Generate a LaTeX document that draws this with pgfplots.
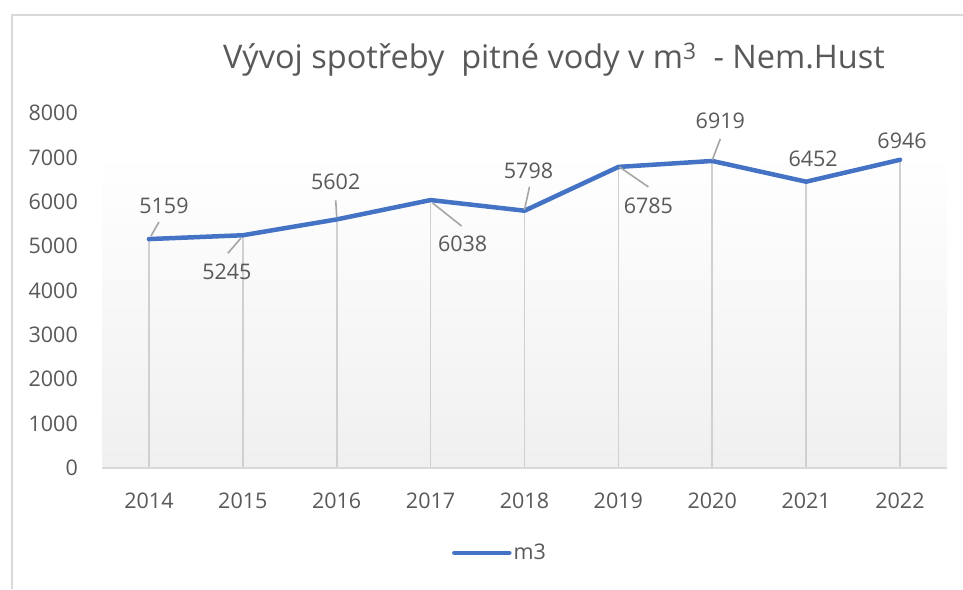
\documentclass[border=0pt]{standalone}
\usepackage{pgfplots}
\pgfplotsset{compat=1.18}
\usepackage{fontspec}
\setmainfont{Open Sans}
\definecolor{lineblue}{HTML}{4472C4}
\definecolor{txtgray}{HTML}{595959}
\definecolor{dropgray}{HTML}{D0D0D0}
\definecolor{leadgray}{HTML}{A6A6A6}
\definecolor{framegray}{HTML}{D9D9D9}
\newcommand{\lbl}[5]{%
  \node[txtgray, inner sep=0pt, font=\fontsize{21.5}{26}\selectfont,
        xshift=#3pt, yshift=#4pt] at (axis cs:#1,#2) {#5};}
\newcommand{\lead}[6]{%
  \draw[leadgray, line width=1.6pt]
    ([xshift=#3pt,yshift=#4pt]axis cs:#1,#2) --
    ([xshift=#5pt,yshift=#6pt]axis cs:#1,#2);}
\begin{document}
\begin{tikzpicture}[x=1pt,y=1pt]
\useasboundingbox (0,0) rectangle (963,589);
\draw[framegray, line width=1.5pt] (12,0) -- (12,574) -- (963,574);
\node[txtgray, font=\fontsize{32.5}{36}\selectfont] at (554,529)
  {Vývoj\ spotřeby\ \ pitné\ vody\ v m\textsuperscript{3}\ \ - Nem.Hust};
\begin{axis}[
  at={(102pt,121pt)}, anchor=south west,
  scale only axis, width=845pt, height=355pt,
  xmin=2013.5, xmax=2022.5, ymin=0, ymax=8000,
  xtick={2014,...,2022},
  xticklabels={2014,2015,2016,2017,2018,2019,2020,2021,2022},
  ytick={0,1000,...,8000},
  yticklabels={0,1000,2000,3000,4000,5000,6000,7000,8000},
  axis line style={draw=none},
  major tick length=0pt,
  tick label style={font=\fontsize{21.5}{26}\selectfont, text=txtgray},
  xticklabel style={anchor=base, yshift=-40pt},
  yticklabel style={anchor=east, inner sep=0pt, xshift=-24pt},
  clip=false,
  legend style={at={(0.471,-0.239)}, anchor=center, draw=none, fill=none,
    font=\fontsize{21.5}{26}\selectfont, text=txtgray, inner sep=0pt},
  legend image code/.code={\draw[#1, line cap=round] (0pt,0pt) -- (55pt,0pt);},
]
  % plot area background
  \path[top color=white, bottom color=black!6]
    (axis cs:2013.5,0) rectangle (axis cs:2022.5,7100);

  % drop lines
  \addplot[ycomb, dropgray, line width=1.6pt, mark=none, forget plot] coordinates {
    (2014,5159) (2015,5245) (2016,5602) (2017,6038) (2018,5798)
    (2019,6785) (2020,6919) (2021,6452) (2022,6946)
  };
  \draw[framegray, line width=2pt] (rel axis cs:0,0) -- (rel axis cs:1,0);

  \addplot[lineblue, line width=4.5pt, line join=round, line cap=round, mark=none] coordinates {
    (2014,5159) (2015,5245) (2016,5602) (2017,6038) (2018,5798)
    (2019,6785) (2020,6919) (2021,6452) (2022,6946)
  };
  \addlegendentry{m3}

  % data labels with leader lines
  \lead{2014}{5159}{2}{3}{10}{17}
  \lead{2015}{5245}{-2}{-3}{-15}{-18}
  \lead{2016}{5602}{0}{2}{-1}{19}
  \lead{2017}{6038}{2}{-3}{31}{-26}
  \lead{2018}{5798}{0}{1}{5}{24}
  \lead{2019}{6785}{1}{0}{30}{-20}
  \lead{2020}{6919}{0}{1}{8}{22}
  \lbl{2014}{5159}{15}{33}{5159}
  \lbl{2015}{5245}{-16}{-37}{5245}
  \lbl{2016}{5602}{-1}{38}{5602}
  \lbl{2017}{6038}{32}{-44}{6038}
  \lbl{2018}{5798}{4}{40}{5798}
  \lbl{2019}{6785}{30}{-39}{6785}
  \lbl{2020}{6919}{8}{40}{6919}
  \lbl{2021}{6452}{7}{23}{6452}
  \lbl{2022}{6946}{2}{19}{6946}
\end{axis}
\end{tikzpicture}
\end{document}
